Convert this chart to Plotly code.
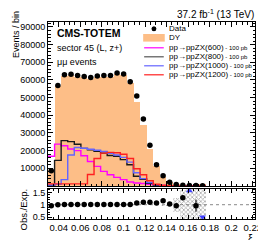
import plotly.graph_objects as go

# ---------------- data ----------------
xi_edges = [round(0.03 + 0.0061 * i, 4) for i in range(25)]   # 24 bins in xi

data_events = [8600, 56800, 62900, 63300, 62500, 62000, 61400, 62300, 62500, 62500,
               63900, 63400, 59000, 50900, 37900, 23000, 12000, 5800, 2100, 850,
               450, 350, 250, 200]
dy_events = [8960, 56800, 62300, 62700, 61900, 61400, 60800, 61700, 61900, 61900,
             63300, 62800, 58400, 47600, 34500, 20900, 11200, 5000, 2050, 890,
             350, 100, 260, 600]
sig_600 = [16800, 23700, 22800, 20900, 20000, 17100, 13900, 11100, 8300, 6400,
           4900, 3600, 2300, 1700, 1400, 1000, 600, 300, 150, 100, 50, 0, 0, 0]
sig_800 = [300, 14500, 25700, 25100, 23600, 21300, 20500, 19600, 18600, 17300,
           16800, 14900, 12000, 5500, 3800, 1500, 500, 200, 100, 0, 0, 0, 0, 0]
sig_1000 = [500, 1000, 3600, 17500, 21800, 21400, 20800, 20200, 19500, 18500,
            17500, 16200, 13500, 7500, 4200, 2000, 800, 300, 100, 0, 0, 0, 0, 0]
sig_1200 = [1200, 1200, 1200, 1200, 1200, 1200, 6500, 15600, 18600, 19000,
            18800, 18000, 15600, 9800, 6400, 3000, 1000, 400, 100, 0, 0, 0, 0, 0]
ratio_err = [0.01, 0.005, 0.005, 0.005, 0.005, 0.005, 0.005, 0.005, 0.005, 0.005,
             0.005, 0.005, 0.005, 0.006, 0.007, 0.01, 0.015, 0.02, 0.04, 0.05,
             0.08, 0.0, 0.25, 0.0]
band_err = [0.005, 0.004, 0.004, 0.004, 0.004, 0.004, 0.004, 0.004, 0.004, 0.004,
            0.004, 0.004, 0.004, 0.005, 0.006, 0.01, 0.015, 0.02, 0.04, 0.3,
            0.6, 1.5, 1.5, 1.5]

y_tickvals = [10000, 20000, 30000, 40000, 50000, 60000, 70000, 80000, 90000]
y_ticktext = ["10000", "20000", "30000", "40000", "50000", "60000", "70000", "80000", "90000"]
x_tickvals = [0.04, 0.06, 0.08, 0.10, 0.12, 0.14, 0.16, 0.18, 0.20, 0.22]
x_ticktext = ["0.04", "0.06", "0.08", "0.1", "0.12", "0.14", "0.16", "0.18", "0.2", "0.22"]
r_tickvals = [0.5, 1.0, 1.5]
r_ticktext = ["0.5", "1", "1.5"]

# ---------------- geometry ----------------
W, H = 266, 240
ML, MR, MT, MB = 40, 15, 14, 29
PW, PH = W - ML - MR, H - MT - MB
XR = [0.03, 0.222]
YR = [0, 92800]
RR = [0.42, 1.65]


def px(xp):
    return (xp - ML) / PW


def py(yp):
    return (H - MB - yp) / PH


centers = [(xi_edges[i] + xi_edges[i + 1]) / 2 for i in range(len(xi_edges) - 1)]
bw = xi_edges[1] - xi_edges[0]

FONT = "Liberation Sans, Arial, Helvetica, sans-serif"
ORANGE = "#fdbe87"
C600, C800, C1000, C1200 = "#ff00ff", "#1a1a1a", "#6464ff", "#ff2020"

fig = go.Figure()

# DY stack
fig.add_trace(go.Bar(x=centers, y=dy_events, width=bw, marker=dict(color=ORANGE, line=dict(width=0)),
                     xaxis="x", yaxis="y", hoverinfo="skip"))


def step(vals, color):
    fig.add_trace(go.Scatter(x=xi_edges, y=list(vals) + [vals[-1]], mode="lines",
                             line=dict(color=color, width=1.4, shape="hv"),
                             xaxis="x", yaxis="y", hoverinfo="skip"))


step(sig_600, C600)
step(sig_800, C800)
step(sig_1000, C1000)
step(sig_1200, C1200)

fig.add_trace(go.Scatter(x=centers, y=data_events, mode="markers",
                         marker=dict(color="black", size=5.5, symbol="circle"),
                         xaxis="x", yaxis="y"))

# ratio panel
fig.add_trace(go.Bar(x=centers, y=[2 * e for e in band_err], base=[1 - e for e in band_err], width=bw,
                     marker=dict(color="rgba(0,0,0,0)", line=dict(width=0),
                                 pattern=dict(shape="x", fgcolor="#555555", bgcolor="rgba(255,255,255,0)",
                                              size=3, solidity=0.45)),
                     xaxis="x2", yaxis="y2", hoverinfo="skip"))

ratio = [d / b if b > 0 else float("inf") for d, b in zip(data_events, dy_events)]
rx, ry, re = [], [], []
hx, hy, lx, ly = [], [], [], []
for c, r, e in zip(centers, ratio, ratio_err):
    if r > RR[1]:
        hx.append(c); hy.append(RR[1] - 0.08)
    elif r < RR[0]:
        lx.append(c); ly.append(RR[0] + 0.08)
    else:
        rx.append(c); ry.append(r); re.append(e)

fig.add_trace(go.Scatter(x=rx, y=ry, mode="markers",
                         marker=dict(color="black", size=5.5),
                         error_y=dict(type="data", array=re, color="black", thickness=1, width=0),
                         xaxis="x2", yaxis="y2"))
fig.add_trace(go.Scatter(x=hx, y=hy, mode="markers", marker=dict(color="#4040ff", size=6, symbol="triangle-up"),
                         xaxis="x2", yaxis="y2"))
fig.add_trace(go.Scatter(x=lx, y=ly, mode="markers", marker=dict(color="#4040ff", size=6, symbol="triangle-down"),
                         xaxis="x2", yaxis="y2"))

shapes = [dict(type="line", xref="x2", yref="y2", x0=XR[0], x1=XR[1], y0=1, y1=1,
               line=dict(color="#888888", width=1, dash="dot"), layer="below")]

# ---------------- legend (manual) ----------------
rows = [20.8, 29.8, 39.8, 48.8, 57.8, 66.8]
ann = []
shapes.append(dict(type="circle", xref="paper", yref="paper",
                   x0=px(145.5), x1=px(150.5), y0=py(rows[0] + 2.5), y1=py(rows[0] - 2.5),
                   fillcolor="black", line=dict(width=0)))
shapes.append(dict(type="rect", xref="paper", yref="paper",
                   x0=px(137), x1=px(159), y0=py(rows[1] + 3.8), y1=py(rows[1] - 3.8),
                   fillcolor=ORANGE, line=dict(width=0)))
for yrow, col in zip(rows[2:], [C600, "#555555", C1000, C1200]):
    shapes.append(dict(type="line", xref="paper", yref="paper", x0=px(138), x1=px(158),
                       y0=py(yrow), y1=py(yrow), line=dict(color=col, width=1.2)))

leg_texts = ["Data", "DY",
             "pp→ppZX(600)<span style='font-size:6px'> - 100 pb</span>",
             "pp→ppZX(800)<span style='font-size:6px'> - 100 pb</span>",
             "pp→ppZX(1000)<span style='font-size:6px'> - 100 pb</span>",
             "pp→ppZX(1200)<span style='font-size:6px'> - 100 pb</span>"]
for yrow, t in zip(rows, leg_texts):
    ann.append(dict(text=t, xref="paper", yref="paper", x=px(161), y=py(yrow), xanchor="left",
                    yanchor="middle", showarrow=False, font=dict(family=FONT, size=8, color="black")))

ann += [
    dict(text="<b>CMS-TOTEM</b>", xref="paper", yref="paper", x=px(47), y=py(24.5), xanchor="left",
         yanchor="middle", showarrow=False, font=dict(family=FONT, size=10.5, color="black")),
    dict(text="sector 45 (L, z+)", xref="paper", yref="paper", x=px(47), y=py(40), xanchor="left",
         yanchor="middle", showarrow=False, font=dict(family=FONT, size=9, color="black")),
    dict(text="μμ events", xref="paper", yref="paper", x=px(47), y=py(54), xanchor="left",
         yanchor="middle", showarrow=False, font=dict(family=FONT, size=9, color="black")),
    dict(text="37.2 fb<sup>-1</sup> (13 TeV)", xref="paper", yref="paper", x=px(252.5), y=py(6.5),
         xanchor="right", yanchor="middle", showarrow=False, font=dict(family=FONT, size=10, color="black")),
    dict(text="Events / bin", xref="paper", yref="paper", x=px(7.5), y=py(27), xanchor="center",
         yanchor="middle", textangle=-90, showarrow=False, font=dict(family=FONT, size=9, color="black")),
    dict(text="Obs./Exp.", xref="paper", yref="paper", x=px(15), y=py(201), xanchor="center",
         yanchor="middle", textangle=-90, showarrow=False, font=dict(family=FONT, size=9.5, color="black")),
    dict(text="ξ", xref="paper", yref="paper", x=px(246), y=py(230.5), xanchor="center",
         yanchor="middle", height=14, valign="top", showarrow=False,
         font=dict(family=FONT, size=10.5, color="black")),
]

axcommon = dict(showline=True, linecolor="black", linewidth=1, mirror="ticks", ticks="inside",
                tickcolor="black", tickwidth=1, showgrid=False, zeroline=False,
                tickfont=dict(family=FONT, size=9, color="black"))

fig.update_layout(
    width=W, height=H, autosize=False,
    margin=dict(l=ML, r=MR, t=MT, b=MB, pad=0),
    paper_bgcolor="white", plot_bgcolor="white",
    showlegend=False, bargap=0, barmode="overlay",
    xaxis=dict(axcommon, domain=[0, 1], range=XR, anchor="y", showticklabels=False,
               tickvals=x_tickvals, ticklen=5,
               minor=dict(ticks="inside", ticklen=2.5, dtick=0.005, tick0=0.0, tickcolor="black")),
    yaxis=dict(axcommon, domain=[py(178), 1], range=YR, anchor="x",
               tickvals=y_tickvals, ticktext=y_ticktext, ticklen=5,
               minor=dict(ticks="inside", ticklen=2.5, dtick=2000, tick0=0, tickcolor="black")),
    xaxis2=dict(axcommon, domain=[0, 1], range=XR, anchor="y2", matches="x",
                tickvals=x_tickvals, ticktext=x_ticktext, ticklen=4,
                tickfont=dict(family=FONT, size=9.5, color="black"),
                minor=dict(ticks="inside", ticklen=2, dtick=0.005, tick0=0.0, tickcolor="black")),
    yaxis2=dict(axcommon, domain=[0, py(180.7)], range=RR, anchor="x2",
                tickvals=r_tickvals, ticktext=r_ticktext, ticklen=4,
                minor=dict(ticks="inside", ticklen=2, dtick=0.1, tick0=0, tickcolor="black")),
    shapes=shapes, annotations=ann,
)

fig.write_html("out.html")
